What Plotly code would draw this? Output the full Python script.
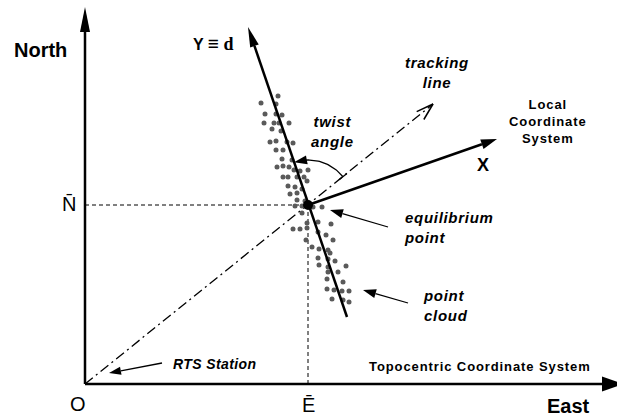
import math

import plotly.graph_objects as go

# Topocentric frame of the drawing: origin at the RTS station (O), East right, North up.
NORTH_TIP = (0, 377)
EAST_TIP = (538, 0)
EQ_POINT = (223, 179)            # (E-bar, N-bar)
Y_AXIS_START = (262, 67)
Y_AXIS_TIP = (163, 357)
X_AXIS_TIP = (412, 245)
TRACK_TIP = (348, 280)
TWIST_RADIUS = 45

# point cloud scattered along the Y (= d) axis
cloud_x = [176, 193, 191, 180, 191, 197, 179, 189, 194, 204, 187, 196, 185, 191, 202, 208,
           191, 198, 197, 207, 192, 198, 204, 209, 215, 223, 198, 203, 212, 219, 222, 203,
           210, 217, 205, 212, 212, 220, 210, 217, 228, 237,
           217, 222, 233, 246, 215, 222, 233, 221, 241, 248, 227, 234, 243, 245, 233, 243,
           250, 234, 243, 253, 261, 243, 242, 258, 242, 249, 257, 264, 247, 258, 264, 208]
cloud_y = [281, 288, 280, 270, 270, 269, 261, 261, 261, 261, 255, 253, 242, 243, 242, 241,
           234, 234, 225, 224, 217, 218, 217, 214, 213, 214, 207, 207, 207, 207, 203, 198,
           197, 195, 190, 191, 184, 183, 178, 178, 177, 177,
           171, 161, 162, 160, 155, 156, 152, 144, 149, 144, 137, 135, 134, 131, 126, 125,
           123, 119, 117, 112, 118, 112, 105, 102, 95, 94, 93, 93, 85, 84, 82, 155]

FONT = "Liberation Sans, Arial, sans-serif"


def head_path(tip, frm, length, half_width):
    """Filled triangular arrowhead at `tip`, pointing away from `frm`."""
    dx, dy = tip[0] - frm[0], tip[1] - frm[1]
    d = math.hypot(dx, dy)
    ux, uy = dx / d, dy / d
    bx, by = tip[0] - ux * length, tip[1] - uy * length
    px, py = -uy * half_width, ux * half_width
    return (f"M{tip[0]},{tip[1]} L{bx + px},{by + py} L{bx - px},{by - py} Z"), (bx, by)


def line(xs, ys, width=2.5, dash="solid", color="black"):
    return go.Scatter(x=xs, y=ys, mode="lines", hoverinfo="skip",
                      line={"color": color, "width": width, "dash": dash})


fig = go.Figure()
shapes = []


def arrow(frm, tip, length, half_width, width):
    path, base = head_path(tip, frm, length, half_width)
    fig.add_trace(line([frm[0], base[0]], [frm[1], base[1]], width=width))
    shapes.append({"type": "path", "path": path, "xref": "x", "yref": "y",
                   "fillcolor": "black", "line": {"width": 0}})


# guide lines to E-bar and N-bar
fig.add_trace(line([0, EQ_POINT[0]], [EQ_POINT[1], EQ_POINT[1]], width=1, dash="4px,3px"))
fig.add_trace(line([EQ_POINT[0], EQ_POINT[0]], [0, EQ_POINT[1]], width=1, dash="4px,3px"))

# tracking line with open arrowhead
fig.add_trace(line([0, TRACK_TIP[0]], [0, TRACK_TIP[1]], width=1.3, dash="10px,4px,2px,4px"))
back = math.atan2(-TRACK_TIP[1], -TRACK_TIP[0])
for off in (-0.3, 0.3):
    a = back + off + 0.06
    fig.add_trace(line([TRACK_TIP[0], TRACK_TIP[0] + 18 * math.cos(a)],
                       [TRACK_TIP[1], TRACK_TIP[1] + 18 * math.sin(a)], width=1.5))

# point cloud
fig.add_trace(go.Scatter(x=cloud_x, y=cloud_y, mode="markers", hoverinfo="skip",
                         marker={"color": "#5a5a5a", "size": 5, "line": {"width": 0}}))

# topocentric axes
arrow((0, 0), NORTH_TIP, 25, 5, 2.5)
arrow((0, 0), EAST_TIP, 21, 7.5, 2.5)

# local axes
arrow(Y_AXIS_START, Y_AXIS_TIP, 20, 4.5, 2.5)
arrow(EQ_POINT, X_AXIS_TIP, 16, 5, 2.5)

# twist angle arc
a0 = math.atan2(TRACK_TIP[1] - EQ_POINT[1], TRACK_TIP[0] - EQ_POINT[0])
a1 = math.atan2(Y_AXIS_TIP[1] - EQ_POINT[1], Y_AXIS_TIP[0] - EQ_POINT[0])
a_base = a1 - 12 / TWIST_RADIUS
n = 30
arc_a = [a0 + (a_base - a0) * i / n for i in range(n + 1)]
fig.add_trace(line([EQ_POINT[0] + TWIST_RADIUS * math.cos(a) for a in arc_a],
                   [EQ_POINT[1] + TWIST_RADIUS * math.sin(a) for a in arc_a], width=1.3))
tip = (EQ_POINT[0] + TWIST_RADIUS * math.cos(a1 - 0.01), EQ_POINT[1] + TWIST_RADIUS * math.sin(a1 - 0.01))
frm = (EQ_POINT[0] + TWIST_RADIUS * math.cos(a_base), EQ_POINT[1] + TWIST_RADIUS * math.sin(a_base))
path, _ = head_path(tip, frm, 13, 4.5)
shapes.append({"type": "path", "path": path, "xref": "x", "yref": "y",
               "fillcolor": "black", "line": {"width": 0}})
sx, sy = EQ_POINT[0] + TWIST_RADIUS * math.cos(a0), EQ_POINT[1] + TWIST_RADIUS * math.sin(a0)
fig.add_trace(line([sx - 5 * math.cos(a0), sx + 5 * math.cos(a0)],
                   [sy - 5 * math.sin(a0), sy + 5 * math.sin(a0)], width=1.3))

# pointer arrows
arrow((77, 21), (24, 11), 12, 4, 1.3)
arrow((303, 157), (245, 174), 13, 4.5, 1.3)
arrow((323, 81), (278, 94), 13, 4.5, 1.3)

# equilibrium point
fig.add_trace(go.Scatter(x=[EQ_POINT[0]], y=[EQ_POINT[1]], mode="markers", hoverinfo="skip",
                         marker={"color": "black", "size": 10}))


def label(x, y, text, size, bold=True, italic=False, xanchor="center", spacing=0):
    if spacing:
        text = f'<span style="letter-spacing:{spacing}px">{text}</span>'
    fig.add_annotation(x=x, y=y, xref="x", yref="y", text=text, showarrow=False,
                       xanchor=xanchor, yanchor="middle", align=xanchor if xanchor != "center" else "center",
                       font={"family": FONT, "size": size, "color": "black",
                             "weight": "bold" if bold else "normal",
                             "style": "italic" if italic else "normal"})


label(-45, 334, "North", 20)
label(483, -22, "East", 20)
label(-7, -20, "O", 20, bold=False)
label(-16, 180, "N\u0304", 20, bold=False)
label(223, -21, "\u0112", 20, bold=False)
label(128, 341, 'Y <span style="font-size:19px">\u2261</span> '
      '<span style="font-family:Liberation Serif;font-size:18px">d</span>', 16)
label(398, 219, "X", 18)
label(352, 312, "tracking<br>line", 15, italic=True, spacing=0.7)
label(463, 263, "Local<br>Coordinate<br>System", 13, spacing=0.9)
label(247, 253, "twist<br>angle", 15, italic=True, spacing=0.7)
label(317, 157, "equilibrium<br>point", 15, italic=True, xanchor="left", spacing=0.7)
label(336, 79, "point<br>cloud", 15, italic=True, xanchor="left", spacing=0.7)
label(395, 18, "Topocentric Coordinate System", 13, spacing=0.9)
label(129, 20, "RTS Station", 14, italic=True, spacing=0.4)

fig.update_layout(
    width=617, height=417, margin={"l": 0, "r": 0, "t": 0, "b": 0},
    paper_bgcolor="white", plot_bgcolor="white", showlegend=False,
    xaxis={"range": [-85, 532], "visible": False, "fixedrange": True},
    yaxis={"range": [-33, 384], "visible": False, "fixedrange": True},
    shapes=shapes,
)

# the page body has a default margin; drop it so the figure fills the window
fig.write_html("out.html", config={"displayModeBar": False},
               post_script="document.body.style.margin = '0';")
